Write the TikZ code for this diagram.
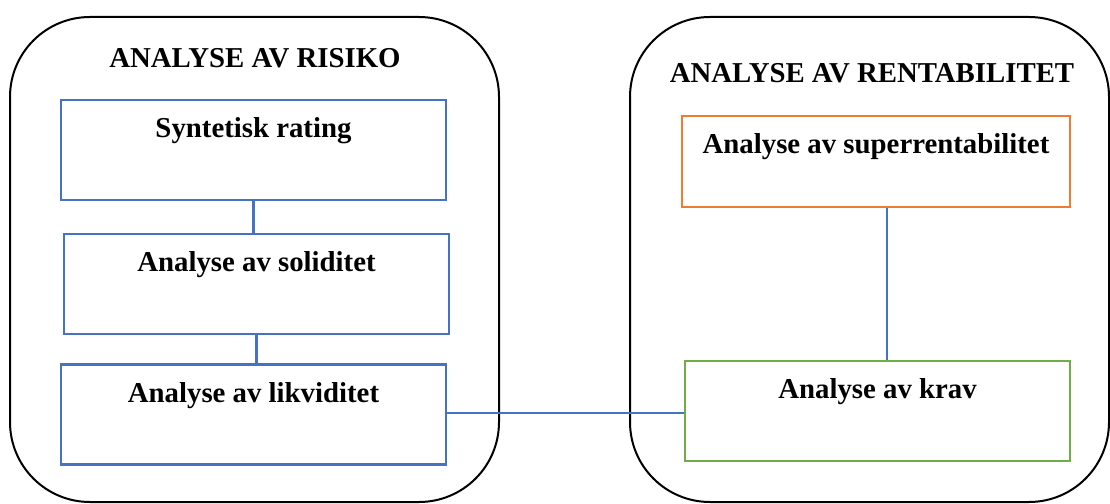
\documentclass[tikz,border=0pt]{standalone}
\usepackage{fontspec}
\setmainfont{Liberation Serif}
\usepackage{tikz}
\usetikzlibrary{positioning,calc}
\definecolor{boxB}{RGB}{68,114,196}
\definecolor{boxO}{RGB}{237,125,49}
\definecolor{boxG}{RGB}{112,173,71}

\begin{document}
\begin{tikzpicture}[x=1pt,y=1pt,font=\fontsize{28.8}{34}\selectfont\bfseries,
   grp/.style={draw=black,line width=2pt,rounded corners=80pt,inner sep=0pt},
   ttl/.style={inner sep=0pt},
   tb/.style={draw,line width=2.6pt,inner sep=0pt,text height=38pt,text depth=62pt},
   ln/.style={draw=boxB,line width=2.4pt}]
\useasboundingbox (0,0) rectangle (1110,503);
\clip (0,0) rectangle (1110,503);
%% ---- left group: risk ----
\node[grp,minimum width=489pt,minimum height=485pt] (risiko) at (254.5,243.5) {};
\node[ttl] (trisiko) at (255,445) {ANALYSE AV RISIKO};
\node[tb,draw=boxB,minimum width=385pt] (syn) at (253.5,353) {Syntetisk rating};
\node[tb,draw=boxB,minimum width=385pt] (sol) at (256.5,219) {Analyse av soliditet};
\node[tb,draw=boxB,minimum width=385pt] (lik) at (253.5,88.5) {Analyse av likviditet};
%% ---- right group: profitability ----
\node[grp,minimum width=479pt,minimum height=485pt] (rentab) at (869.5,243.5) {};
\node[ttl] (trentab) at (872,430) {ANALYSE AV RENTABILITET};
\node[tb,draw=boxO,minimum width=388pt,text depth=53pt] (sup) at (876,341.5) {Analyse av superrentabilitet};
\node[tb,draw=boxG,minimum width=385pt] (krav) at (877.5,92) {Analyse av krav};
%% ---- connectors ----
\draw[ln] (syn.south) -- (syn.south |- sol.north);
\draw[ln] (sol.south) -- (sol.south |- lik.north);
\draw[ln] ([yshift=1.5pt]lik.east) -- ([yshift=1.5pt]lik.east -| krav.west);
\draw[ln] ([xshift=11pt]sup.south) -- ([xshift=11pt]sup.south |- krav.north);
\end{tikzpicture}
\end{document}
